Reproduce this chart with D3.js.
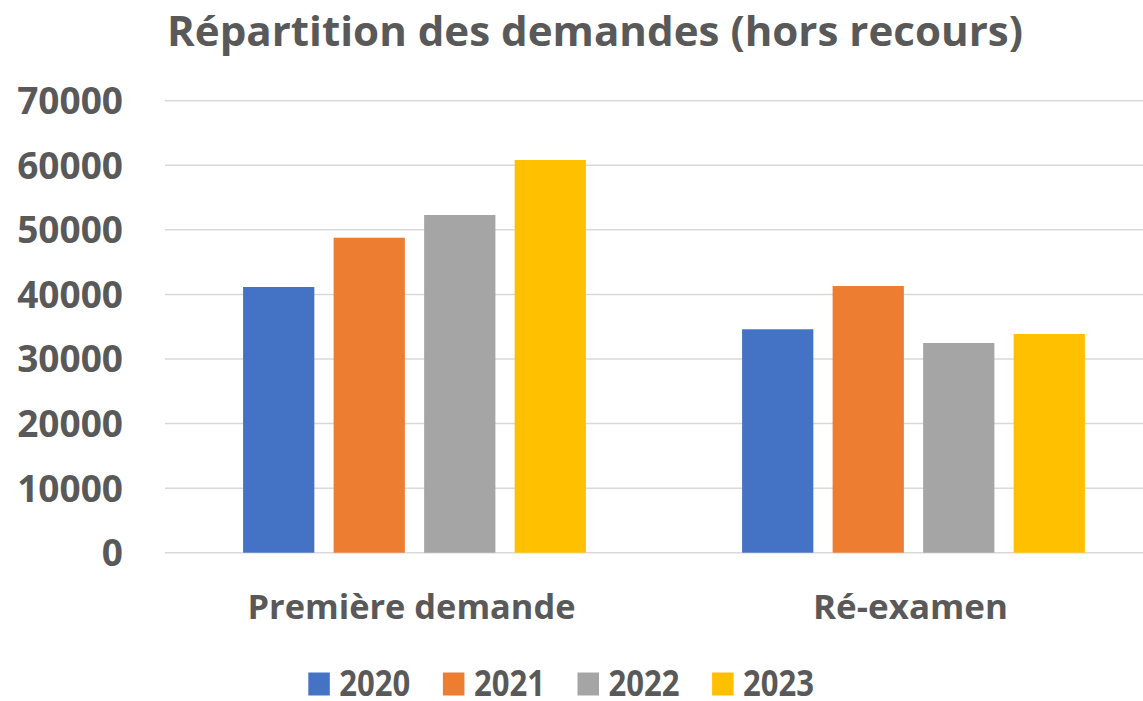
<!DOCTYPE html>
<html>
<head>
<meta charset="utf-8">
<script src="https://cdn.jsdelivr.net/npm/d3@7"></script>
<style>
  html, body { margin: 0; padding: 0; background: #fff; }
  svg text { font-family: 'Open Sans', 'DejaVu Sans', sans-serif; font-weight: 700; fill: #595959; }
</style>
</head>
<body>
<div id="chart"></div>
<script>
// Données
const categories = ['Première demande', 'Ré-examen'];
const years      = ['2020', '2021', '2022', '2023'];
const values2020 = [41150, 34600];
const values2021 = [48780, 41300];
const values2022 = [52300, 32480];
const values2023 = [60820, 33870];
const yTicks     = [0, 10000, 20000, 30000, 40000, 50000, 60000, 70000];
const colors     = ['#4472C4', '#ED7D31', '#A5A5A5', '#FFC000'];

const series = [values2020, values2021, values2022, values2023];

const W = 1143, H = 701;
const plot = { left: 165, right: 1163, top: 100.7, bottom: 552.7 };

const svg = d3.select('#chart')
  .append('svg')
  .attr('width', W)
  .attr('height', H);

const x0 = d3.scaleBand()
  .domain(categories)
  .range([plot.left, plot.right])
  .paddingInner(0.313)
  .paddingOuter(0.1565);

const x1 = d3.scaleBand()
  .domain(years)
  .range([0, x0.bandwidth()])
  .paddingInner(0.213)
  .paddingOuter(0);

const y = d3.scaleLinear()
  .domain([0, 70000])
  .range([plot.bottom, plot.top]);

// Title
svg.append('text')
  .attr('x', 595)
  .attr('y', 45.5)
  .attr('text-anchor', 'middle')
  .attr('font-size', 41)
  .attr('textLength', 856)
  .attr('lengthAdjust', 'spacingAndGlyphs')
  .text('Répartition des demandes (hors recours)');

// Grid lines
svg.append('g')
  .selectAll('line')
  .data(yTicks)
  .join('line')
  .attr('x1', plot.left)
  .attr('x2', plot.right)
  .attr('y1', d => y(d))
  .attr('y2', d => y(d))
  .attr('stroke', '#d9d9d9')
  .attr('stroke-width', 1.5);

// Y tick labels
svg.append('g')
  .selectAll('text')
  .data(yTicks)
  .join('text')
  .attr('x', 123)
  .attr('y', d => y(d) + 13.5)
  .attr('text-anchor', 'end')
  .attr('font-size', 37)
  .text(d => d);

// Bars
const groups = svg.append('g')
  .selectAll('g')
  .data(categories)
  .join('g')
  .attr('transform', d => `translate(${x0(d)},0)`);

groups.selectAll('rect')
  .data((c, ci) => years.map((yr, i) => ({ year: yr, i, value: series[i][ci] })))
  .join('rect')
  .attr('x', d => x1(d.year))
  .attr('width', x1.bandwidth())
  .attr('y', d => y(d.value))
  .attr('height', d => y(0) - y(d.value))
  .attr('fill', d => colors[d.i]);

// Category labels
const catWidths = [328, 195];
svg.append('g')
  .selectAll('text')
  .data(categories)
  .join('text')
  .attr('x', d => x0(d) + x0.bandwidth() / 2 - 3)
  .attr('y', 619)
  .attr('text-anchor', 'middle')
  .attr('font-size', 34)
  .attr('textLength', (d, i) => catWidths[i])
  .attr('lengthAdjust', 'spacingAndGlyphs')
  .text(d => d);

// Legend
const legend = svg.append('g')
  .selectAll('g')
  .data(years)
  .join('g')
  .attr('transform', (d, i) => `translate(${308.3 + i * 134.6},0)`);

legend.append('rect')
  .attr('x', 0)
  .attr('y', 672.5)
  .attr('width', 21.5)
  .attr('height', 23)
  .attr('fill', (d, i) => colors[i]);

legend.append('text')
  .attr('x', 31)
  .attr('y', 695.7)
  .attr('font-size', 35)
  .attr('textLength', 71)
  .attr('lengthAdjust', 'spacingAndGlyphs')
  .text(d => d);
</script>
</body>
</html>
